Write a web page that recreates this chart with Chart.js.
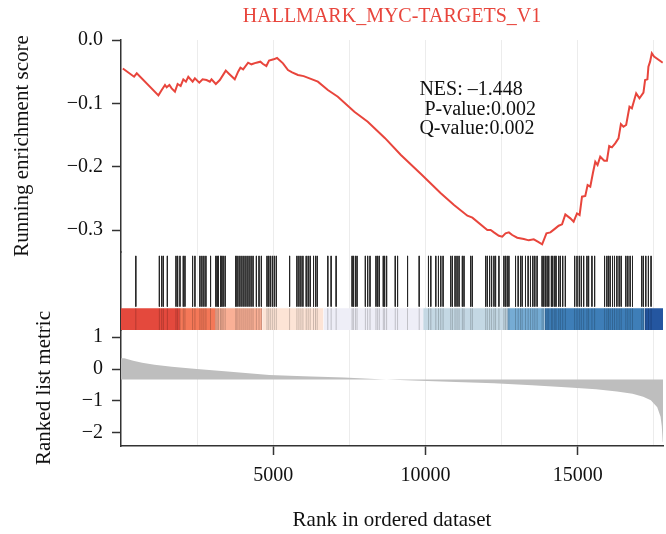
<!DOCTYPE html>
<html>
<head>
<meta charset="utf-8">
<title>GSEA - HALLMARK_MYC-TARGETS_V1</title>
<script src="https://cdn.jsdelivr.net/npm/chart.js@4.4.1/dist/chart.umd.min.js"></script>
<style>
  html, body { margin: 0; padding: 0; background: #fff; }
  #wrap { width: 666px; height: 534px; }
</style>
</head>
<body>
<div id="wrap"><canvas id="gsea" width="666" height="534"></canvas></div>
<script>
// running enrichment score (rank, score)
const esRank = [60, 430, 518, 1229, 1337, 1445, 1500, 1590, 1664, 1772, 1860, 1959, 2047, 2132, 2210, 2352,
  2427, 2571, 2679, 2810, 2918, 2973, 3114, 3245, 3441, 3553, 3736, 3847, 3922, 4011, 4174, 4283, 4446,
  4577, 4665, 4774, 4862, 5013, 5124, 5320, 5484, 5620, 5811, 6000, 6191, 6466, 6793, 7121, 7664, 8103,
  8672, 9192, 9860, 10502, 10937, 11376, 11540, 12031, 12139, 12247, 12410, 12521, 12629, 12738, 12849,
  13012, 13229, 13392, 13556, 13687, 13831, 13972, 14102, 14266, 14374, 14485, 14593, 14757, 14865, 14976,
  15061, 15140, 15248, 15324, 15412, 15500, 15576, 15651, 15739, 15870, 15958, 16033, 16122, 16230, 16338,
  16417, 16502, 16590, 16699, 16778, 16919, 17027, 17158, 17212, 17288, 17321, 17376, 17432, 17507, 17792];
const esValue = [-0.045, -0.058, -0.0526, -0.0874, -0.079, -0.071, -0.0747, -0.071, -0.0763, -0.0816, -0.0695,
  -0.0726, -0.0621, -0.0658, -0.058, -0.0658, -0.0605, -0.0674, -0.0621, -0.0632, -0.0658, -0.0621, -0.0695,
  -0.0632, -0.0484, -0.0537, -0.0621, -0.05, -0.0437, -0.0463, -0.0358, -0.0384, -0.0358, -0.0342, -0.0379,
  -0.041, -0.0326, -0.0305, -0.0284, -0.0368, -0.0474, -0.051, -0.0553, -0.057, -0.0605, -0.0658, -0.079,
  -0.0895, -0.1132, -0.129, -0.155, -0.1816, -0.212, -0.242, -0.2605, -0.2774, -0.2805, -0.3, -0.3, -0.3037,
  -0.309, -0.3105, -0.3053, -0.3037, -0.3079, -0.3121, -0.3142, -0.3163, -0.3147, -0.3184, -0.3226, -0.3053,
  -0.3037, -0.2974, -0.2932, -0.291, -0.2753, -0.2816, -0.2868, -0.2737, -0.2763, -0.2474, -0.2463, -0.229,
  -0.2316, -0.2095, -0.1921, -0.1974, -0.1842, -0.1905, -0.1905, -0.1674, -0.1695, -0.1632, -0.1553, -0.1326,
  -0.1368, -0.1342, -0.1053, -0.1079, -0.0842, -0.0921, -0.0832, -0.0632, -0.0621, -0.0421, -0.0342, -0.021,
  -0.0263, -0.0358];

// ranks of the gene set members (barcode)
const hitRanks = [486, 1260, 1337, 1391, 1522, 1806, 1860, 1937, 2046, 2100, 2351, 2428, 2591, 2657, 2722,
  2788, 2941, 3115, 3159, 3202, 3268, 3311, 3355, 3421, 3770, 3813, 3879, 3944, 4010, 4075, 4141, 4206,
  4272, 4337, 4446, 4533, 4610, 4795, 4850, 4904, 4970, 5035, 5101, 5537, 5777, 5843, 5908, 5974, 6083,
  6148, 6214, 6323, 6388, 6443, 6792, 6901, 7065, 7589, 7632, 7698, 7752, 8025, 8101, 8178, 8374, 8429,
  8483, 8614, 8658, 8723, 9007, 9083, 9411, 9793, 10098, 10174, 10338, 10426, 10502, 10578, 10829, 10884,
  10971, 11036, 11102, 11211, 11265, 11484, 11539, 11975, 12030, 12106, 12171, 12248, 12302, 12411, 12575,
  12629, 12684, 12739, 12957, 13044, 13120, 13175, 13284, 13371, 13448, 13524, 13590, 13666, 13830, 13884,
  13939, 13994, 14048, 14135, 14179, 14245, 14288, 14375, 14430, 14506, 14593, 14899, 14976, 15052, 15118,
  15194, 15303, 15357, 15466, 15554, 15881, 15957, 16012, 16066, 16143, 16208, 16285, 16361, 16427, 16579,
  16645, 16721, 16798, 17103, 17158, 17234, 17321, 17408];

// ranked list metric (rank, value)
const metricRank = [0, 109, 400, 695, 1100, 1668, 2393, 3500, 4872, 6000, 7321, 8500, 9814, 11000, 12250,
  13500, 14727, 15600, 16288, 16800, 17150, 17400, 17611, 17720, 17760, 17791, 17800];
const metricValue = [0.34, 0.34, 0.26, 0.2, 0.13, 0.07, 0.01, -0.08, -0.19, -0.23, -0.27, -0.32, -0.37, -0.41,
  -0.45, -0.51, -0.58, -0.64, -0.71, -0.78, -0.87, -0.98, -1.2, -1.5, -1.8, -2.29, -2.3];
const metricBase = -0.33;

// colour band under the barcode
const bandStart = [0, 1936, 3114, 4643, 6649, 9923, 12685, 13916, 17189];
const bandEnd = [1936, 3114, 4643, 6649, 9923, 12685, 13916, 17189, 17800];
const bandColors = ['#e4493d', '#f47858', '#fab096', '#fde4d6', '#eeeef7', '#c4d8e4', '#76acd4', '#3e7eb8', '#2456a0'];

// x grid every 2500, labels only on these
const gridRanks = [2500, 5000, 7500, 10000, 12500, 15000, 17500];
const xTickLabels = [5000, 10000, 15000];
const statLines = ['NES: \u20131.448', ' P-value:0.002', 'Q-value:0.002'];
const statsAt = { rank: 9800, es: -0.079 };

// layout of the barcode strip on its own 0..1 axis
const BAR_TOP = 0.95, BAR_BOTTOM = 0.3, BAND_TOP = 0.28;

const serif = '"Liberation Serif", "Times New Roman", serif';
const axisColor = '#333';
const textColor = '#111';
const red = '#e8453c';

const fmt = (v, d) => (v < -1e-9 ? '\u2212' : '') + Math.abs(v).toFixed(d);

const hitData = [];
const stripeData = [];
for (const r of hitRanks) {
  hitData.push({ x: r, y: BAR_TOP }, { x: r, y: BAR_BOTTOM }, { x: r, y: null });
  stripeData.push({ x: r, y: BAND_TOP }, { x: r, y: 0 }, { x: r, y: null });
}

const bandSets = bandColors.map((c, i) => ({
  data: [{ x: bandStart[i], y: BAND_TOP }, { x: bandEnd[i], y: BAND_TOP }],
  yAxisID: 'yHits',
  backgroundColor: c,
  borderColor: 'transparent',
  borderWidth: 0,
  pointRadius: 0,
  fill: { value: 0 },
  order: 3
}));

const statsText = {
  id: 'statsText',
  afterDatasetsDraw(chart) {
    const { ctx, scales } = chart;
    const x = scales.x.getPixelForValue(statsAt.rank);
    let y = scales.y.getPixelForValue(statsAt.es);
    ctx.save();
    ctx.font = '20px ' + serif;
    ctx.fillStyle = textColor;
    ctx.textAlign = 'left';
    ctx.textBaseline = 'middle';
    for (const line of statLines) {
      ctx.fillText(line, x, y);
      y += 19.5;
    }
    ctx.restore();
  }
};

Chart.defaults.font.family = serif;
Chart.defaults.color = textColor;

const leftAxis = (extra) => Object.assign({
  type: 'linear',
  position: 'left',
  stack: 'gsea',
  grid: { display: true, drawOnChartArea: false, tickLength: 9, tickColor: axisColor, tickWidth: 1.5 },
  border: { color: axisColor, width: 1.5 },
  afterFit: (s) => { s.width = 121; }
}, extra);

new Chart(document.getElementById('gsea'), {
  type: 'line',
  data: {
    datasets: [
      {
        data: esRank.map((r, i) => ({ x: r, y: esValue[i] })),
        yAxisID: 'y',
        borderColor: red,
        borderWidth: 2,
        pointRadius: 0,
        order: 0
      },
      {
        data: hitData,
        yAxisID: 'yHits',
        borderColor: '#262626',
        borderWidth: 1,
        pointRadius: 0,
        spanGaps: false,
        order: 1
      },
      {
        data: stripeData,
        yAxisID: 'yHits',
        borderColor: 'rgba(0,0,0,0.07)',
        borderWidth: 1,
        pointRadius: 0,
        spanGaps: false,
        order: 2
      },
      ...bandSets,
      {
        data: metricRank.map((r, i) => ({ x: r, y: metricValue[i] })),
        yAxisID: 'yMetric',
        backgroundColor: '#bebebe',
        borderColor: 'transparent',
        borderWidth: 0,
        pointRadius: 0,
        fill: { value: metricBase },
        order: 4
      }
    ]
  },
  options: {
    responsive: false,
    animation: false,
    events: [],
    layout: { padding: { left: 0, right: 3, top: 0, bottom: 0 } },
    plugins: {
      legend: { display: false },
      tooltip: { enabled: false },
      title: {
        display: true,
        text: 'HALLMARK_MYC-TARGETS_V1',
        color: red,
        fullSize: false,
        font: { family: serif, size: 20, weight: 'normal' },
        padding: { top: 5, bottom: 11 }
      }
    },
    scales: {
      x: {
        type: 'linear',
        min: 0,
        max: 17800,
        afterBuildTicks: (s) => { s.ticks = gridRanks.map(v => ({ value: v })); },
        ticks: {
          autoSkip: false,
          maxRotation: 0,
          padding: 9,
          color: textColor,
          font: { size: 20 },
          callback: (v) => (xTickLabels.includes(v) ? String(v) : '')
        },
        grid: {
          color: '#ececec',
          lineWidth: 1,
          tickLength: 9,
          tickWidth: 1.5,
          tickColor: (ctx) => (ctx.tick && xTickLabels.includes(ctx.tick.value) ? axisColor : 'rgba(0,0,0,0)')
        },
        border: { color: axisColor, width: 1.5 },
        title: {
          display: true,
          text: 'Rank in ordered dataset',
          color: textColor,
          font: { size: 21 },
          padding: { top: 0, bottom: 1 }
        },
        afterFit: (s) => { s.height = 88; }
      },
      y: leftAxis({
        weight: 3,
        stackWeight: 212,
        min: -0.3347,
        max: 0,
        ticks: { stepSize: 0.1, includeBounds: false, autoSkip: false, padding: 9, color: textColor, font: { size: 20 }, callback: (v) => fmt(v, 1) },
        title: { display: true, text: 'Running enrichment score', color: textColor, font: { size: 21 }, padding: { top: 10, bottom: 0 } }
      }),
      yHits: leftAxis({
        weight: 2,
        stackWeight: 78,
        min: 0,
        max: 1,
        ticks: { display: false },
        grid: { display: false }
      }),
      yMetric: leftAxis({
        weight: 1,
        stackWeight: 116,
        min: -2.42,
        max: 1.226,
        ticks: { stepSize: 1, includeBounds: false, autoSkip: false, padding: 9, color: textColor, font: { size: 20 }, callback: (v) => fmt(v, 0) },
        title: { display: true, text: 'Ranked list metric', color: textColor, font: { size: 21 }, padding: { top: 32, bottom: 0 } }
      })
    }
  },
  plugins: [statsText]
});
</script>
</body>
</html>
